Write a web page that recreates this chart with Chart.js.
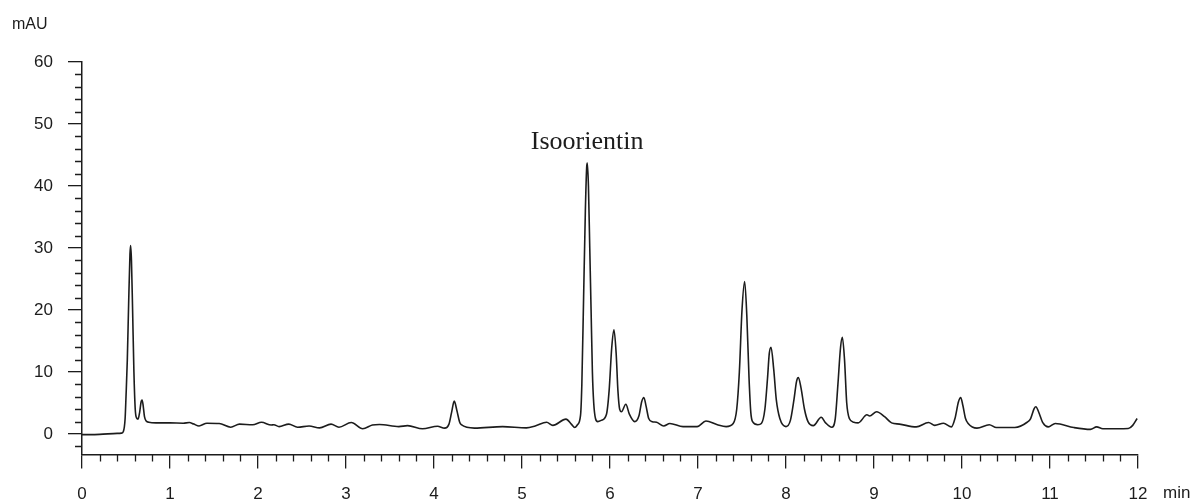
<!DOCTYPE html>
<html>
<head>
<meta charset="utf-8">
<script src="https://cdn.jsdelivr.net/npm/chart.js@4/dist/chart.umd.min.js"></script>
<style>
  html, body { margin: 0; padding: 0; background: #fff; }
  #wrap { width: 1197px; height: 502px; }
</style>
</head>
<body>
<div id="wrap"><canvas id="myChart" width="1197" height="502"></canvas></div>
<script>
// retention time (min) and absorbance (mAU)
const times = [
  0.00, 0.20, 0.40, 0.45, 0.47, 0.49, 0.50, 0.515, 0.53, 0.545, 0.553, 0.562, 0.575, 0.59, 0.605, 0.62,
  0.637, 0.655, 0.672, 0.683, 0.695, 0.71, 0.73, 0.76, 0.84, 1.00, 1.15, 1.22, 1.27, 1.33, 1.42, 1.56,
  1.69, 1.79, 1.94, 2.04, 2.15, 2.18, 2.24, 2.35, 2.45, 2.58, 2.70, 2.83, 2.92, 3.06, 3.19, 3.30,
  3.38, 3.60, 3.70, 3.87, 4.04, 4.12, 4.17, 4.20, 4.23, 4.26, 4.29, 4.31, 4.46, 4.78, 5.05, 5.15,
  5.28, 5.35, 5.50, 5.56, 5.60, 5.63, 5.665, 5.68, 5.70, 5.72, 5.735, 5.742, 5.755, 5.77, 5.785, 5.80,
  5.815, 5.835, 5.86, 5.90, 5.96, 5.99, 6.02, 6.045, 6.07, 6.09, 6.11, 6.13, 6.18, 6.22, 6.28, 6.33,
  6.36, 6.385, 6.41, 6.44, 6.48, 6.53, 6.61, 6.68, 6.83, 6.99, 7.09, 7.22, 7.32, 7.40, 7.44, 7.47,
  7.50, 7.53, 7.555, 7.58, 7.60, 7.62, 7.68, 7.72, 7.76, 7.79, 7.81, 7.83, 7.86, 7.89, 7.93, 8.00,
  8.05, 8.09, 8.12, 8.14, 8.17, 8.21, 8.25, 8.31, 8.40, 8.45, 8.52, 8.56, 8.59, 8.62, 8.64, 8.665,
  8.69, 8.72, 8.77, 8.82, 8.92, 8.95, 9.03, 9.12, 9.20, 9.29, 9.48, 9.62, 9.69, 9.79, 9.88, 9.92,
  9.96, 9.985, 10.01, 10.04, 10.07, 10.17, 10.31, 10.39, 10.60, 10.74, 10.78, 10.82, 10.84, 10.87, 10.92, 10.98,
  11.06, 11.27, 11.46, 11.53, 11.60, 11.89, 11.94, 11.99
];
const signal = [
  -0.1, -0.05, 0.1, 0.15, 0.4, 2.5, 6, 12, 21, 29, 30.4, 28, 20, 10, 4, 2.6,
  2.4, 3.5, 5.2, 5.5, 4.6, 2.8, 2.1, 1.9, 1.8, 1.8, 1.75, 1.85, 1.6, 1.3, 1.75, 1.7,
  1.1, 1.6, 1.5, 1.9, 1.45, 1.5, 1.2, 1.6, 1.1, 1.3, 1.0, 1.6, 1.1, 1.85, 0.85, 1.45,
  1.55, 1.2, 1.35, 0.85, 1.25, 0.95, 1.6, 3.5, 5.3, 3.8, 2.0, 1.5, 0.95, 1.2, 1.0, 1.3,
  1.9, 1.4, 2.4, 1.6, 1.05, 1.5, 3, 8, 22, 36, 43, 43.7, 40, 30, 20, 10,
  5, 2.5, 2.0, 2.2, 3.2, 7, 14, 16.8, 13, 7, 4, 3.6, 4.8, 3.2, 2.0, 3.0,
  5.2, 5.9, 4.5, 2.5, 2.0, 1.9, 1.3, 1.7, 1.2, 1.2, 2.1, 1.5, 1.2, 1.7, 4, 10,
  20, 24.6, 19, 9, 3.5, 2.0, 1.5, 1.7, 4, 9, 13, 14.0, 10.5, 5.5, 2.5, 1.2,
  2.2, 5.5, 8.5, 9.1, 7.5, 4.0, 2.0, 1.35, 2.7, 1.8, 1.1, 2.5, 8, 14, 15.6, 12,
  5, 2.5, 1.9, 1.8, 3.1, 2.9, 3.6, 2.8, 1.8, 1.6, 1.15, 1.85, 1.4, 1.75, 1.15, 2.5,
  5.2, 5.9, 4.6, 2.5, 1.7, 0.95, 1.5, 1.05, 1.05, 1.9, 2.5, 4.1, 4.4, 3.6, 1.8, 1.15,
  1.7, 1.05, 0.75, 1.15, 0.85, 0.9, 1.4, 2.5
];
const xTicks = [0, 1, 2, 3, 4, 5, 6, 7, 8, 9, 10, 11, 12];
const yTicks = [0, 10, 20, 30, 40, 50, 60];
const peakName = 'Isoorientin';
const peakTime = 5.74;
const peakLabelValue = 46;

const ink = '#1c1c1c';
const tickFont = { family: 'Arial, "Liberation Sans", sans-serif', size: 17 };

// minor ticks, unit labels and the peak name
const decor = {
  id: 'decor',
  afterDraw(chart) {
    const { ctx, scales: { x, y } } = chart;
    ctx.save();
    ctx.strokeStyle = ink;
    ctx.lineWidth = 1.3;
    ctx.beginPath();
    for (let i = 0; i <= 60; i++) {
      if (i % 5 === 0) continue;
      const px = Math.round(x.getPixelForValue(i * 0.2)) + 0.5;
      ctx.moveTo(px, y.bottom);
      ctx.lineTo(px, y.bottom + 7);
    }
    for (let v = -2; v <= 60; v += 2) {
      if (v % 10 === 0) continue;
      const py = Math.round(y.getPixelForValue(v)) + 0.5;
      ctx.moveTo(x.left - 7, py);
      ctx.lineTo(x.left, py);
    }
    ctx.stroke();

    ctx.fillStyle = ink;
    ctx.font = '16px Arial, "Liberation Sans", sans-serif';
    ctx.textAlign = 'left';
    ctx.textBaseline = 'middle';
    ctx.fillText('mAU', 12, 25);
    ctx.font = '17px Arial, "Liberation Sans", sans-serif';
    ctx.fillText('min', 1163, 493);

    ctx.font = '26px "Liberation Serif", "Times New Roman", serif';
    ctx.textAlign = 'center';
    ctx.textBaseline = 'alphabetic';
    ctx.fillText(peakName, x.getPixelForValue(peakTime), y.getPixelForValue(peakLabelValue));
    ctx.restore();
  }
};

const ctx = document.getElementById('myChart').getContext('2d');
const chart = new Chart(ctx, {
  type: 'line',
  data: {
    datasets: [{
      data: times.map((t, i) => ({ x: t, y: signal[i] })),
      borderColor: ink,
      borderWidth: 1.6,
      pointRadius: 0,
      fill: false,
      cubicInterpolationMode: 'monotone'
    }]
  },
  options: {
    responsive: false,
    animation: false,
    layout: { padding: { top: 62, right: 59, left: 0, bottom: 0 } },
    plugins: { legend: { display: false }, tooltip: { enabled: false } },
    scales: {
      x: {
        type: 'linear',
        min: 0,
        max: 12,
        afterBuildTicks: s => { s.ticks = xTicks.map(v => ({ value: v })); },
        afterFit: s => { s.height = 47.5; },
        border: { display: true, color: ink, width: 1.5 },
        grid: { drawOnChartArea: false, drawTicks: true, tickLength: 14, color: ink, lineWidth: 1.3 },
        ticks: { color: ink, font: tickFont, padding: 16, maxRotation: 0, autoSkip: false }
      },
      y: {
        min: -3.3,
        max: 60,
        afterBuildTicks: s => { s.ticks = yTicks.map(v => ({ value: v })); },
        afterFit: s => { s.width = 82; },
        border: { display: true, color: ink, width: 1.5 },
        grid: { drawOnChartArea: false, drawTicks: true, tickLength: 14, color: ink, lineWidth: 1.3 },
        ticks: { color: ink, font: tickFont, padding: 15 }
      }
    }
  },
  plugins: [decor]
});
</script>
</body>
</html>
